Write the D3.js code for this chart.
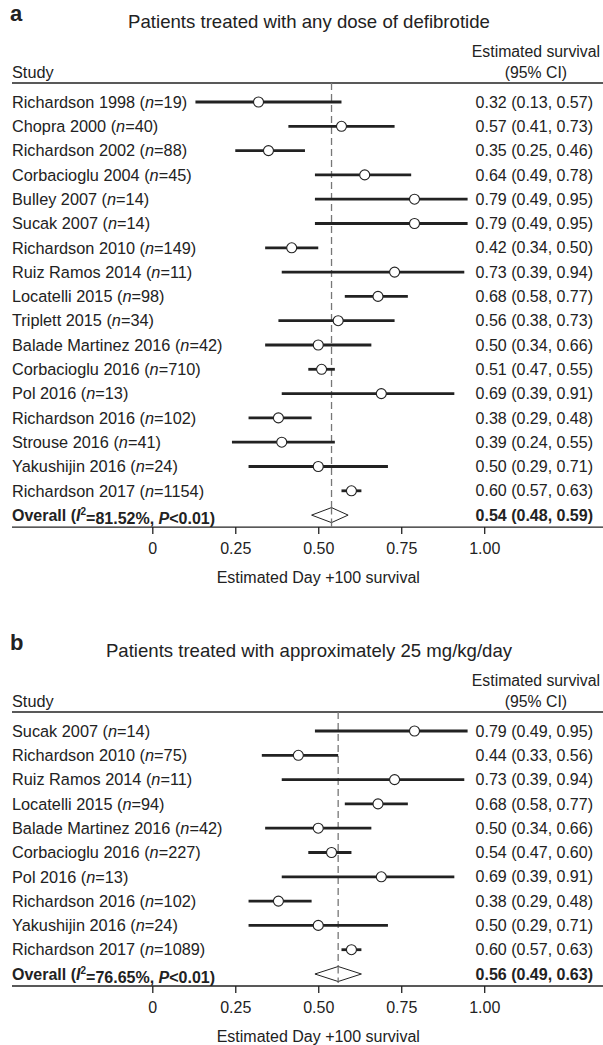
<!DOCTYPE html>
<html><head><meta charset="utf-8">
<script src="https://cdn.jsdelivr.net/npm/d3@7"></script>
<style>
html,body{margin:0;padding:0;background:#fff;}
svg{display:block;font-family:"Liberation Sans",Arial,Helvetica,sans-serif;}
</style></head>
<body>
<svg id="chart" width="603" height="1045"></svg>
<script>
// ---- Data ----
const studiesA = ["Richardson 1998","Chopra 2000","Richardson 2002","Corbacioglu 2004","Bulley 2007","Sucak 2007","Richardson 2010","Ruiz Ramos 2014","Locatelli 2015","Triplett 2015","Balade Martinez 2016","Corbacioglu 2016","Pol 2016","Richardson 2016","Strouse 2016","Yakushijin 2016","Richardson 2017"];
const nA = [19,40,88,45,14,14,149,11,98,34,42,710,13,102,41,24,1154];
const estA = [0.32,0.57,0.35,0.64,0.79,0.79,0.42,0.73,0.68,0.56,0.50,0.51,0.69,0.38,0.39,0.50,0.60];
const loA  = [0.13,0.41,0.25,0.49,0.49,0.49,0.34,0.39,0.58,0.38,0.34,0.47,0.39,0.29,0.24,0.29,0.57];
const hiA  = [0.57,0.73,0.46,0.78,0.95,0.95,0.50,0.94,0.77,0.73,0.66,0.55,0.91,0.48,0.55,0.71,0.63];
const overallA = {est:0.54, lo:0.48, hi:0.59, i2:"81.52%", p:"<0.01"};

const studiesB = ["Sucak 2007","Richardson 2010","Ruiz Ramos 2014","Locatelli 2015","Balade Martinez 2016","Corbacioglu 2016","Pol 2016","Richardson 2016","Yakushijin 2016","Richardson 2017"];
const nB = [14,75,11,94,42,227,13,102,24,1089];
const estB = [0.79,0.44,0.73,0.68,0.50,0.54,0.69,0.38,0.50,0.60];
const loB  = [0.49,0.33,0.39,0.58,0.34,0.47,0.39,0.29,0.29,0.57];
const hiB  = [0.95,0.56,0.94,0.77,0.66,0.60,0.91,0.48,0.71,0.63];
const overallB = {est:0.56, lo:0.49, hi:0.63, i2:"76.65%", p:"<0.01"};

const tickValues = [0,0.25,0.5,0.75,1];
const tickLabels = ["0","0.25","0.50","0.75","1.00"];
const titles = ["Patients treated with any dose of defibrotide","Patients treated with approximately 25 mg/kg/day"];
const panelLetters = ["a","b"];
const axisTitle = "Estimated Day +100 survival";

// ---- Drawing ----
const svg = d3.select("#chart");
const W = 603;
const ink = "#222";
const fs = 16;
const fsLab = 16.3;
const x = d3.scaleLinear().domain([0,1]).range([152.3,484.2]);
const fmt = d3.format(".2f");

function drawPanel(top, letter, title, studies, ns, est, lo, hi, overall){
  const g = svg.append("g").attr("transform",`translate(0,${top})`);
  const step = 24.3;
  const headerLine = 83;
  const y0 = 102;
  const rows = studies.map((s,i)=>({s, n:ns[i], e:est[i], l:lo[i], h:hi[i], y:y0+i*step}));
  const yOverall = y0 + studies.length*step;
  const bottomLine = yOverall + 12;

  g.append("text").attr("x",10).attr("y",21).attr("font-size",22).attr("font-weight","bold").attr("fill",ink).text(letter);
  g.append("text").attr("x",309).attr("y",28).attr("text-anchor","middle").attr("font-size",18.6).attr("fill",ink).text(title);
  const est1 = g.append("text").attr("x",600).attr("y",57).attr("text-anchor","end").attr("font-size",15.8).attr("fill",ink).text("Estimated survival");
  const w1 = est1.node().getComputedTextLength();
  g.append("text").attr("x",600 - w1/2).attr("y",78).attr("text-anchor","middle").attr("font-size",15.8).attr("fill",ink).text("(95% CI)");
  g.append("text").attr("x",12).attr("y",78).attr("font-size",fsLab).attr("fill",ink).text("Study");

  g.append("line").attr("x1",12).attr("x2",W).attr("y1",headerLine).attr("y2",headerLine).attr("stroke",ink).attr("stroke-width",1.3);
  g.append("line").attr("x1",12).attr("x2",W).attr("y1",bottomLine).attr("y2",bottomLine).attr("stroke",ink).attr("stroke-width",1.3);

  // dashed line at overall estimate
  g.append("line").attr("x1",x(overall.est)).attr("x2",x(overall.est))
    .attr("y1",headerLine).attr("y2",bottomLine)
    .attr("stroke","#777").attr("stroke-width",1.3).attr("stroke-dasharray","7,4");

  // CI lines
  g.selectAll("line.ci").data(rows).join("line").attr("class","ci")
    .attr("x1",d=>x(d.l)).attr("x2",d=>x(d.h)).attr("y1",d=>d.y).attr("y2",d=>d.y)
    .attr("stroke",ink).attr("stroke-width",2.8);
  g.selectAll("circle.pt").data(rows).join("circle").attr("class","pt")
    .attr("cx",d=>x(d.e)).attr("cy",d=>d.y).attr("r",5)
    .attr("fill","#fff").attr("stroke",ink).attr("stroke-width",1.1);

  // labels
  const lab = g.selectAll("text.lab").data(rows).join("text").attr("class","lab")
    .attr("x",12).attr("y",d=>d.y).attr("dy","0.35em").attr("font-size",fsLab).attr("fill",ink);
  lab.append("tspan").text(d=>d.s+" (");
  lab.append("tspan").attr("font-style","italic").text("n");
  lab.append("tspan").text(d=>"="+d.n+")");

  g.selectAll("text.val").data(rows).join("text").attr("class","val")
    .attr("x",593).attr("y",d=>d.y).attr("dy","0.35em").attr("text-anchor","end").attr("font-size",fs).attr("fill",ink)
    .text(d=>`${fmt(d.e)} (${fmt(d.l)}, ${fmt(d.h)})`);

  // overall
  const dia = [[x(overall.lo),yOverall],[x(overall.est),yOverall-7.5],[x(overall.hi),yOverall],[x(overall.est),yOverall+7.5]];
  g.append("path").attr("d","M"+dia.map(p=>p.join(",")).join("L")+"Z")
    .attr("fill","#fff").attr("stroke",ink).attr("stroke-width",1);
  g.append("line").attr("x1",x(overall.est)).attr("x2",x(overall.est))
    .attr("y1",yOverall-7.5).attr("y2",yOverall+7.5)
    .attr("stroke","#777").attr("stroke-width",1.3).attr("stroke-dasharray","7,4");

  const ov = g.append("text").attr("x",12).attr("y",yOverall).attr("dy","0.35em").attr("font-size",fs).attr("font-weight","bold").attr("fill",ink);
  ov.append("tspan").text("Overall (");
  ov.append("tspan").attr("font-style","italic").text("I");
  ov.append("tspan").attr("font-size",10).attr("dy","-0.6em").text("2");
  ov.append("tspan").attr("dy","0.6em").text("="+overall.i2+", ");
  ov.append("tspan").attr("font-style","italic").text("P");
  ov.append("tspan").text(overall.p+")");
  g.append("text").attr("x",593).attr("y",yOverall).attr("dy","0.35em").attr("text-anchor","end").attr("font-size",fs).attr("font-weight","bold").attr("fill",ink)
    .text(`${fmt(overall.est)} (${fmt(overall.lo)}, ${fmt(overall.hi)})`);

  // axis
  const axis = d3.axisBottom(x).tickValues(tickValues).tickFormat((d,i)=>tickLabels[i]).tickSize(7).tickSizeOuter(0).tickPadding(9);
  const ax = g.append("g").attr("transform",`translate(0,${bottomLine})`).call(axis);
  ax.select(".domain").remove();
  ax.selectAll(".tick line").attr("stroke",ink).attr("stroke-width",1.3);
  ax.selectAll(".tick text").attr("font-size",fs).attr("fill",ink).attr("font-family","inherit");
  g.append("text").attr("x",x(0.5)).attr("y",bottomLine+56).attr("text-anchor","middle").attr("font-size",fs).attr("fill",ink).text(axisTitle);
}

drawPanel(0, panelLetters[0], titles[0], studiesA, nA, estA, loA, hiA, overallA);
drawPanel(629, panelLetters[1], titles[1], studiesB, nB, estB, loB, hiB, overallB);
</script>
</body></html>
